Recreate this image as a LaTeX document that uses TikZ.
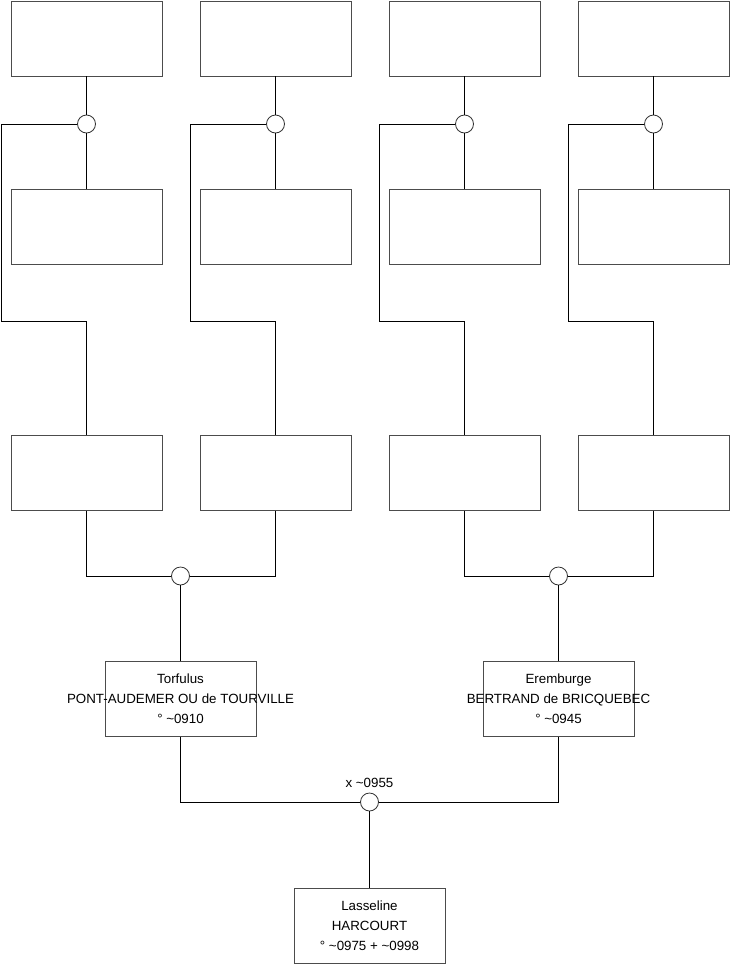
\documentclass[tikz,border=0pt]{standalone}
\usepackage{fontspec}
\setmainfont{Liberation Sans}
\begin{document}
\begin{tikzpicture}[x=0.75pt,y=-0.75pt,
  person/.style={draw=black!70,line width=0.6pt,fill=white,minimum width=113.25pt,minimum height=56.25pt,inner sep=0pt},
  persontext/.style={align=center,inner sep=0pt,font=\fontsize{10}{15}\selectfont},
  union/.style={draw=black!80,line width=0.6pt,fill=white,circle,minimum size=13.5pt,inner sep=0pt},
  link/.style={draw=black,line width=0.6pt}]
\useasboundingbox (0,0) rectangle (740,975);
% columns
\foreach \i/\cx in {1/86.5,2/275.5,3/464.5,4/653.5}{
  \node[person] (a\i) at (\cx,38.5) {};
  \node[union] (c\i) at (\cx,124) {};
  \node[person] (b\i) at (\cx,227) {};
  \node[person] (d\i) at (\cx,473) {};
  \coordinate (r\i) at ({\cx-85},124);
  \coordinate (s\i) at ({\cx-85},321);
  \coordinate (t\i) at (\cx,321);
  \draw[link] (a\i.south) -- (c\i.north);
  \draw[link] (c\i.south) -- (b\i.north);
  \draw[link] (c\i.west) -- (r\i) -- (s\i) -- (t\i) -- (d\i.north);
}
\node[union] (e1) at (180.5,576) {};
\node[union] (e2) at (558.5,576) {};
\draw[link] (d1.south) |- (e1.west);
\draw[link] (d2.south) |- (e1.east);
\draw[link] (d3.south) |- (e2.west);
\draw[link] (d4.south) |- (e2.east);
\node[person] (f1) at (180.5,699) {};
\node[persontext] (f1t) at ([yshift=0.5pt]f1.center) {Torfulus\\PONT-AUDEMER OU de TOURVILLE\\° \textasciitilde0910};
\node[person] (f2) at (558.5,699) {};
\node[persontext] (f2t) at ([yshift=0.5pt]f2.center) {Eremburge\\BERTRAND de BRICQUEBEC\\° \textasciitilde0945};
\draw[link] (e1.south) -- (f1.north);
\draw[link] (e2.south) -- (f2.north);
\node[union] (g) at (369.5,802) {};
\node[font=\fontsize{10}{12}\selectfont,anchor=south] (gl) at (369.5,792) {x \textasciitilde0955};
\draw[link] (f1.south) |- (g.west);
\draw[link] (f2.south) |- (g.east);
\node[person] (h) at (369.5,926) {};
\node[persontext] (ht) at ([yshift=0.5pt]h.center) {Lasseline\\HARCOURT\\° \textasciitilde0975 + \textasciitilde0998};
\draw[link] (g.south) -- (h.north);
\end{tikzpicture}
\end{document}
